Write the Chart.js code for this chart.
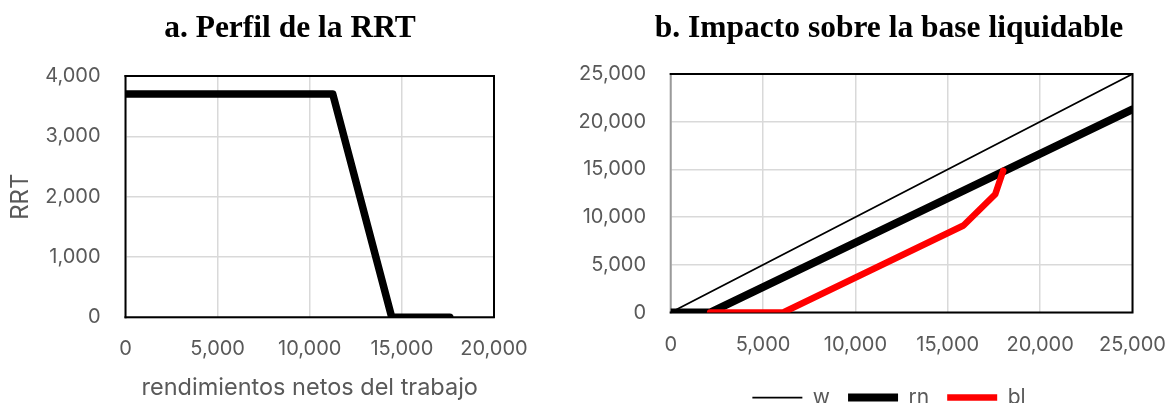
<!DOCTYPE html>
<html>
<head>
<meta charset="utf-8">
<script src="https://cdn.jsdelivr.net/npm/chart.js@4.4.1/dist/chart.umd.min.js"></script>
<style>
    html, body { margin: 0; padding: 0; background: #fff; }
    #wrap { position: relative; width: 1171px; height: 403px; overflow: hidden; }
    canvas { position: absolute; top: 0; }
    #rrtChart { left: 0; }
    #baseChart { left: 560px; }
</style>
</head>
<body>
<div id="wrap">
    <canvas id="rrtChart" width="580" height="403"></canvas>
    <canvas id="baseChart" width="658" height="418"></canvas>
</div>
<script>
// a. RRT profile
const rrtX = [0, 11250, 14450, 17600];
const rrtY = [3700, 3700, 0, 0];
const rrtXTicks = [0, 5000, 10000, 15000, 20000];
const rrtYTicks = [0, 1000, 2000, 3000, 4000];

// b. impact on the taxable base
const wX = [0, 25000];
const wY = [0, 25000];
const rnX = [0, 2135, 25000];
const rnY = [0, 0, 21300];
const blX = [2135, 6090, 15850, 17570, 18000];
const blY = [0, 0, 9120, 12400, 14860];
const baseTicks = [0, 5000, 10000, 15000, 20000, 25000];

const gray = '#595959';
const tickFont = { family: 'Inter', size: 20 };

function points(xs, ys) {
    return xs.map((x, i) => ({ x: x, y: ys[i] }));
}

function fmt(v) {
    return Number(v).toLocaleString('en-US');
}

// box round the plot area, drawn under the lines
const framePlugin = {
    id: 'frame',
    beforeDatasetsDraw(chart, args, opts) {
        const a = chart.chartArea;
        const ctx = chart.ctx;
        ctx.save();
        ctx.lineWidth = 2;
        ctx.lineCap = 'square';
        ctx.strokeStyle = opts.leftColor || '#000';
        ctx.beginPath();
        ctx.moveTo(a.left, a.top);
        ctx.lineTo(a.left, a.bottom);
        ctx.stroke();
        ctx.strokeStyle = '#000';
        ctx.beginPath();
        ctx.moveTo(a.left, a.top);
        ctx.lineTo(a.right, a.top);
        ctx.lineTo(a.right, a.bottom);
        ctx.lineTo(a.left, a.bottom);
        ctx.stroke();
        ctx.restore();
    }
};

function axis(min, max, tickList, size, pad) {
    return {
        type: 'linear',
        min: min,
        max: max,
        afterBuildTicks: s => { s.ticks = tickList.map(v => ({ value: v })); },
        afterFit: s => {
            if (s.isHorizontal()) s.height = size; else s.width = size;
        },
        grid: { color: '#d9d9d9', lineWidth: 1.5, drawTicks: false },
        border: { display: false },
        ticks: {
            padding: pad,
            color: gray,
            font: tickFont,
            maxRotation: 0,
            autoSkip: false,
            callback: v => fmt(v)
        }
    };
}

// empty right-hand axis: keeps blank space right of the plot so the title centres like the original
function spacer(width) {
    return {
        type: 'linear',
        position: 'right',
        min: 0,
        max: 1,
        afterFit: s => { s.width = width; },
        grid: { display: false, drawTicks: false },
        border: { display: false },
        ticks: { display: false }
    };
}

const rrtXAxis = axis(0, 20000, rrtXTicks, 85.7, 20);
rrtXAxis.title = {
    display: true,
    text: 'rendimientos netos del trabajo',
    color: gray,
    font: { family: 'Inter', size: 23.5 },
    padding: { top: 0, bottom: 0.5 }
};
const rrtYAxis = axis(0, 4000, rrtYTicks, 125.5, 25);
rrtYAxis.title = {
    display: true,
    text: 'RRT',
    color: gray,
    font: { family: 'Inter', size: 24 },
    padding: { top: 6, bottom: 0 }
};

new Chart(document.getElementById('rrtChart'), {
    type: 'line',
    data: {
        datasets: [{
            label: 'RRT',
            data: points(rrtX, rrtY),
            borderColor: '#000',
            borderWidth: 7.5,
            borderCapStyle: 'round',
            borderJoinStyle: 'round',
            pointRadius: 0,
            tension: 0
        }]
    },
    options: {
        responsive: false,
        animation: false,
        layout: { padding: 0 },
        plugins: {
            legend: { display: false },
            tooltip: { enabled: false },
            title: {
                display: true,
                text: 'a. Perfil de la RRT',
                color: '#000',
                font: { family: 'Liberation Serif', size: 31.5, weight: 'bold' },
                padding: { top: 9.5, bottom: 28.7 }
            },
            frame: {}
        },
        scales: { x: rrtXAxis, y: rrtYAxis, pad: spacer(86) }
    },
    plugins: [framePlugin]
});

new Chart(document.getElementById('baseChart'), {
    type: 'line',
    data: {
        datasets: [{
            label: 'w',
            data: points(wX, wY),
            borderColor: '#000',
            borderWidth: 1.75,
            order: 0
        }, {
            label: 'rn',
            data: points(rnX, rnY),
            borderColor: '#000',
            borderWidth: 8,
            order: 2
        }, {
            label: 'bl',
            data: points(blX, blY),
            borderColor: '#ff0000',
            borderWidth: 6.5,
            order: 1
        }]
    },
    options: {
        responsive: false,
        animation: false,
        layout: { padding: 0 },
        elements: {
            line: { borderCapStyle: 'round', borderJoinStyle: 'round', tension: 0 },
            point: { radius: 0, pointStyle: 'line' }
        },
        plugins: {
            legend: {
                display: true,
                position: 'bottom',
                labels: {
                    usePointStyle: true,
                    pointStyleWidth: 50,
                    padding: 18,
                    color: gray,
                    font: { family: 'Inter', size: 21 },
                    sort: (a, b) => a.datasetIndex - b.datasetIndex
                }
            },
            tooltip: { enabled: false },
            title: {
                display: true,
                text: 'b. Impacto sobre la base liquidable',
                color: '#000',
                font: { family: 'Liberation Serif', size: 31.5, weight: 'bold' },
                padding: { top: 9.5, bottom: 26.7 }
            },
            frame: { leftColor: '#9a9a9a' }
        },
        scales: {
            x: axis(0, 25000, baseTicks, 56.5, 20),
            y: axis(0, 25000, baseTicks, 110.7, 24.7),
            pad: spacer(85.5)
        }
    },
    plugins: [framePlugin]
});
</script>
</body>
</html>
